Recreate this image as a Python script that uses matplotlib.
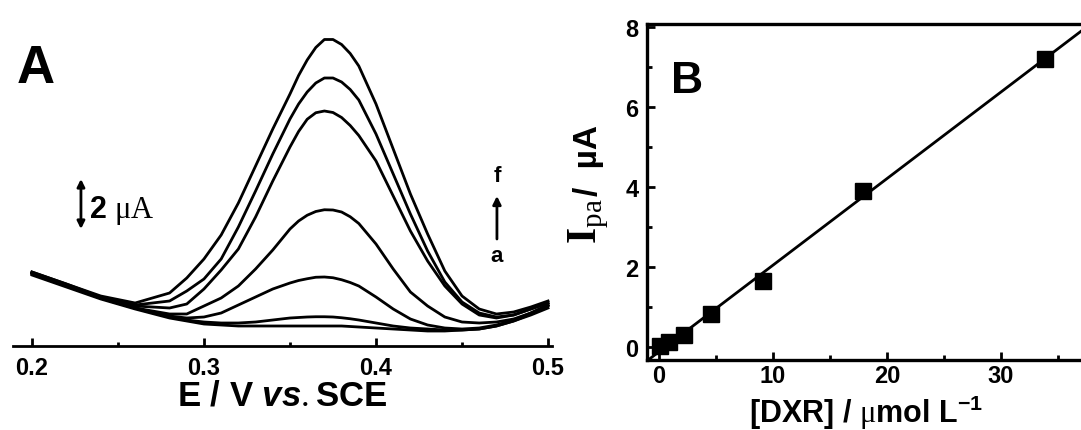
import numpy as np
import matplotlib
matplotlib.use('Agg')
import matplotlib.pyplot as plt
from matplotlib.ticker import MultipleLocator

plt.rcParams['font.family'] = 'Liberation Sans'
plt.rcParams['mathtext.fontset'] = 'custom'
plt.rcParams['mathtext.rm'] = 'Liberation Serif'
plt.rcParams['mathtext.bf'] = 'Liberation Serif:bold'
plt.rcParams['mathtext.sf'] = 'Liberation Sans:bold'
plt.rcParams['mathtext.it'] = 'Liberation Sans:italic:bold'

# panel A: DPV curves (current in uA)
potential = [0.20, 0.22, 0.24, 0.26, 0.28, 0.29, 0.30, 0.31, 0.32, 0.33, 0.34, 0.35, 0.355,
             0.36, 0.365, 0.37, 0.375, 0.38, 0.385, 0.39, 0.40, 0.41, 0.42, 0.43, 0.44, 0.45,
             0.46, 0.47, 0.48, 0.49, 0.50]
cur_blank = [2.84, 2.36, 1.88, 1.48, 1.12, 1.00, 0.88, 0.84, 0.80, 0.80, 0.80, 0.80, 0.80,
             0.80, 0.80, 0.80, 0.80, 0.80, 0.78, 0.76, 0.72, 0.68, 0.64, 0.60, 0.60, 0.64,
             0.68, 0.80, 1.00, 1.24, 1.52]
cur_a = [2.88, 2.40, 1.92, 1.52, 1.16, 1.04, 0.96, 0.92, 0.92, 0.96, 1.04, 1.12, 1.14,
         1.16, 1.17, 1.17, 1.16, 1.13, 1.09, 1.04, 0.92, 0.80, 0.72, 0.68, 0.64, 0.64,
         0.68, 0.80, 1.00, 1.28, 1.60]
cur_b = [2.92, 2.44, 1.92, 1.52, 1.20, 1.12, 1.16, 1.32, 1.64, 1.96, 2.28, 2.52, 2.62,
         2.69, 2.75, 2.76, 2.73, 2.65, 2.54, 2.40, 1.96, 1.48, 1.08, 0.84, 0.72, 0.68,
         0.72, 0.84, 1.04, 1.32, 1.64]
cur_c = [2.92, 2.44, 1.92, 1.52, 1.28, 1.28, 1.60, 1.92, 2.40, 3.08, 3.84, 4.68, 5.00,
         5.23, 5.38, 5.45, 5.44, 5.36, 5.17, 4.90, 4.08, 3.08, 2.16, 1.60, 1.16, 0.96,
         0.92, 0.96, 1.08, 1.32, 1.64]
cur_d = [2.92, 2.44, 1.96, 1.60, 1.52, 1.68, 2.28, 3.04, 3.88, 5.16, 6.60, 7.96, 8.58,
         9.07, 9.33, 9.40, 9.34, 9.14, 8.82, 8.42, 7.40, 6.00, 4.60, 3.40, 2.40, 1.68,
         1.24, 1.12, 1.24, 1.48, 1.72]
cur_e = [2.96, 2.48, 1.96, 1.64, 1.80, 2.20, 2.68, 3.48, 4.76, 6.20, 7.68, 9.08, 9.68,
         10.16, 10.52, 10.72, 10.72, 10.56, 10.26, 9.84, 8.48, 6.88, 5.28, 3.80, 2.56, 1.76,
         1.32, 1.16, 1.24, 1.48, 1.72]
cur_f = [2.96, 2.48, 2.00, 1.72, 2.12, 2.72, 3.48, 4.44, 5.72, 7.20, 8.68, 10.08, 10.82,
         11.44, 11.94, 12.26, 12.26, 12.06, 11.70, 11.20, 9.68, 7.88, 6.08, 4.48, 3.00, 2.00,
         1.48, 1.28, 1.36, 1.56, 1.80]
curves = [cur_blank, cur_a, cur_b, cur_c, cur_d, cur_e, cur_f]
xticks_a = [0.2, 0.3, 0.4, 0.5]
xticklabels_a = ['0.2', '0.3', '0.4', '0.5']

# panel B: calibration
conc = [0.1, 0.9, 2.2, 4.6, 9.1, 17.9, 33.9]
ipa = [0.03, 0.12, 0.30, 0.83, 1.65, 3.90, 7.20]
xticks_b = [0, 10, 20, 30]
yticks_b = [0, 2, 4, 6, 8]

W, H = 1081, 431
fig = plt.figure(figsize=(W / 100, H / 100), dpi=100)

# ---- panel A
axA = fig.add_axes([13 / W, 84 / H, 539 / W, 347 / H])
for c in curves:
    axA.plot(potential, c, color='k', lw=2.0, solid_joinstyle='round')
axA.set_xlim(0.189, 0.5023)
axA.set_ylim(0, 13.88)
for s in ['left', 'right', 'top']:
    axA.spines[s].set_visible(False)
axA.spines['bottom'].set_linewidth(2)
axA.set_yticks([])
axA.set_xticks(xticks_a)
axA.set_xticklabels(xticklabels_a, fontweight='bold')
axA.xaxis.set_minor_locator(MultipleLocator(0.05))
axA.tick_params(axis='x', which='major', direction='in', length=6, width=2, labelsize=17, pad=7)
axA.tick_params(axis='x', which='minor', direction='in', length=3, width=2)
axA.set_xlabel(r'E / V $\mathit{vs.}$SCE', fontsize=25, fontweight='bold', labelpad=0)

axA.text(0.1912, 10.56, 'A', fontsize=38, fontweight='bold', ha='left', va='baseline')
# 2 uA scale bar
axA.annotate('', xy=(0.2285, 6.68), xytext=(0.2285, 4.68),
             arrowprops=dict(arrowstyle='<|-|>', color='k', lw=2, mutation_scale=11,
                             shrinkA=0, shrinkB=0))
axA.text(0.2332, 5.16, r'2 $\mathrm{\mu A}$', fontsize=22, fontweight='bold',
         ha='left', va='baseline')
# a -> f arrow
axA.annotate('', xy=(0.4703, 6.0), xytext=(0.4703, 4.28),
             arrowprops=dict(arrowstyle='-|>', color='k', lw=2, mutation_scale=12,
                             shrinkA=0, shrinkB=0))
axA.text(0.4703, 6.84, 'f', fontsize=16, fontweight='bold', ha='center', va='center')
axA.text(0.4703, 3.60, 'a', fontsize=16, fontweight='bold', ha='center', va='center')

# ---- panel B
axB = fig.add_axes([647 / W, 70 / H, 437 / W, 336 / H])
k, b = np.polyfit(conc, ipa, 1)
xx = np.array([-1.05, 37.3])
axB.plot(xx, k * xx + b, color='k', lw=2, zorder=2)
axB.plot(conc, ipa, 's', color='k', ms=12, zorder=3)
axB.set_xlim(-1.05, 37.3)
axB.set_ylim(-0.325, 8.075)
for s in axB.spines.values():
    s.set_linewidth(2.4)
axB.set_xticks(xticks_b)
axB.set_yticks(yticks_b)
axB.set_xticklabels([str(t) for t in xticks_b], fontweight='bold')
axB.set_yticklabels([str(t) for t in yticks_b], fontweight='bold')
axB.xaxis.set_minor_locator(MultipleLocator(5))
axB.yaxis.set_minor_locator(MultipleLocator(1))
axB.tick_params(which='major', direction='in', length=6, width=2, labelsize=17)
axB.tick_params(which='minor', direction='in', length=3.5, width=2)
axB.tick_params(axis='x', pad=3)
axB.tick_params(axis='y', pad=6)
axB.set_xlabel(r'[DXR] / $\mathrm{\mu}$mol L$^{\mathsf{-1}}$', fontsize=22,
               fontweight='bold', labelpad=4)
axB.text(1.1, 6.38, 'B', fontsize=32, fontweight='bold', ha='left', va='baseline')
axB.text(-0.185, 0.348, r'$\mathbf{I}_{\mathrm{pa}}$', fontsize=30, rotation=90,
         ha='left', va='bottom', transform=axB.transAxes)
axB.text(-0.169, 0.492, '/  µA', fontsize=24, fontweight='bold', rotation=90,
         ha='left', va='bottom', transform=axB.transAxes)

fig.savefig('out.png', dpi=100)
